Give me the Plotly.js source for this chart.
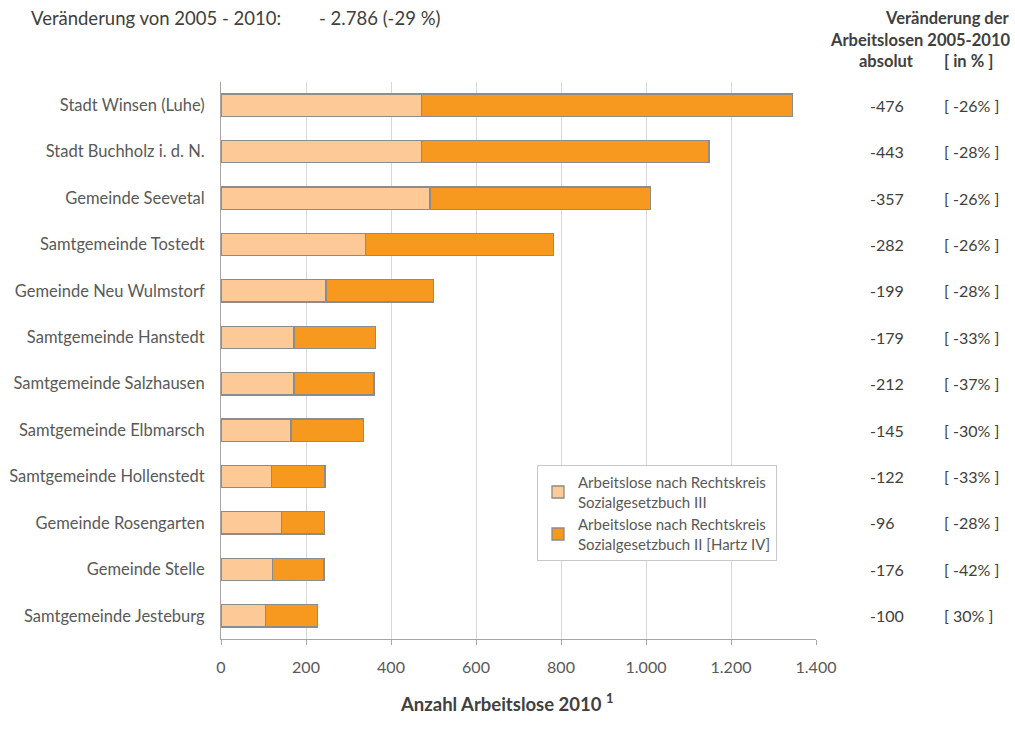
<!DOCTYPE html>
<html>
<head>
<meta charset="utf-8">
<script src="https://cdn.plot.ly/plotly-3.0.1.min.js"></script>
<style>html,body{margin:0;padding:0;background:#fff;}#chart{width:1015px;height:740px;}</style>
</head>
<body>
<div id="chart"></div>
<script>
var categories = ["Stadt Winsen (Luhe)", "Stadt Buchholz i. d. N.", "Gemeinde Seevetal", "Samtgemeinde Tostedt",
  "Gemeinde Neu Wulmstorf", "Samtgemeinde Hanstedt", "Samtgemeinde Salzhausen", "Samtgemeinde Elbmarsch",
  "Samtgemeinde Hollenstedt", "Gemeinde Rosengarten", "Gemeinde Stelle", "Samtgemeinde Jesteburg"];
var sgb3 = [471, 471, 492, 340, 247, 172, 172, 165, 118, 142, 121, 105];
var sgb2 = [874, 677, 519, 442, 253, 191, 188, 171, 127, 102, 121, 122];
var changeAbs = ["-476", "-443", "-357", "-282", "-199", "-179", "-212", "-145", "-122", "-96", "-176", "-100"];
var changePct = ["[ -26% ]", "[ -28% ]", "[ -26% ]", "[ -26% ]", "[ -28% ]", "[ -33% ]", "[ -37% ]", "[ -30% ]", "[ -33% ]", "[ -28% ]", "[ -42% ]", "[ 30% ]"];
var seriesNames = ["Arbeitslose nach Rechtskreis<br>Sozialgesetzbuch III", "Arbeitslose nach Rechtskreis<br>Sozialgesetzbuch II [Hartz IV]"];
var xTicks = [0, 200, 400, 600, 800, 1000, 1200, 1400];
var headerLeft = "Veränderung von 2005 - 2010:";
var headerLeftValue = "- 2.786 (-29 %)";

var FONT = "Lato, 'Open Sans', sans-serif";
var lineCol = "#8c8c8c";
var txt = "#595959";
var dark = "#404040";

var traces = [
  {type: "bar", orientation: "h", y: categories, x: sgb3, name: seriesNames[0],
   marker: {color: "#fdca97", line: {color: lineCol, width: 1.3}}, hoverinfo: "x+y"},
  {type: "bar", orientation: "h", y: categories, x: sgb2, name: seriesNames[1],
   marker: {color: "#f7981f", line: {color: lineCol, width: 1.3}}, hoverinfo: "x+y"}
];

var annotations = [];
var L = 221, W = 595, T = 82, H = 557, B = 639;
function px(x) { return (x - L) / W; }
function py(y) { return (B - y) / H; }
categories.forEach(function (c, i) {
  annotations.push({xref: "paper", yref: "y", x: px(868), y: c, text: changeAbs[i], showarrow: false,
    xanchor: "left", font: {family: FONT, size: 16, color: dark}});
  annotations.push({xref: "paper", yref: "y", x: px(942), y: c, text: changePct[i], showarrow: false,
    xanchor: "left", font: {family: FONT, size: 16, color: dark}});
});
annotations.push({xref: "paper", yref: "paper", x: px(29), y: py(18), text: headerLeft,
  showarrow: false, xanchor: "left", yanchor: "middle", font: {family: FONT, size: 18.5, color: dark}});
annotations.push({xref: "paper", yref: "paper", x: px(317), y: py(18), text: headerLeftValue,
  showarrow: false, xanchor: "left", yanchor: "middle", font: {family: FONT, size: 18.5, color: dark}});
annotations.push({xref: "paper", yref: "paper", x: px(1012), y: py(18), text: "<b>Veränderung der</b>",
  showarrow: false, xanchor: "right", yanchor: "middle", font: {family: FONT, size: 16.5, color: dark}});
annotations.push({xref: "paper", yref: "paper", x: px(1012), y: py(40), text: "<b>Arbeitslosen 2005-2010</b>",
  showarrow: false, xanchor: "right", yanchor: "middle", font: {family: FONT, size: 16.5, color: dark}});
annotations.push({xref: "paper", yref: "paper", x: px(857), y: py(61), text: "<b>absolut</b>",
  showarrow: false, xanchor: "left", yanchor: "middle", font: {family: FONT, size: 16.5, color: dark}});
annotations.push({xref: "paper", yref: "paper", x: px(942), y: py(61), text: "<b>[ in % ]</b>",
  showarrow: false, xanchor: "left", yanchor: "middle", font: {family: FONT, size: 16.5, color: dark}});
annotations.push({xref: "paper", yref: "paper", x: px(507), y: py(703), text: "<b>Anzahl Arbeitslose 2010 <sup>1</sup></b>",
  showarrow: false, xanchor: "center", yanchor: "middle", font: {family: FONT, size: 18.5, color: dark}});

var layout = {
  width: 1015, height: 740,
  margin: {l: L, r: 1015 - L - W, t: T, b: 740 - B},
  paper_bgcolor: "#fff", plot_bgcolor: "#fff",
  barmode: "stack", bargap: 0.52,
  separators: ",.",
  font: {family: FONT, size: 16, color: txt},
  showlegend: true,
  legend: {x: px(537), y: py(465), xanchor: "left", yanchor: "top", traceorder: "normal",
    bgcolor: "#fff", bordercolor: "#c8c8c8", borderwidth: 1,
    font: {family: FONT, size: 15, color: txt}, itemwidth: 30, tracegroupgap: 8},
  xaxis: {range: [0, 1400], tickvals: xTicks, tickformat: ",d", showgrid: true, gridcolor: "#d9d9d9", gridwidth: 1,
    zeroline: false, showline: true, linecolor: "#a6a6a6", linewidth: 1, ticks: "outside", ticklen: 5,
    tickcolor: "#a6a6a6", ticklabelstandoff: 9, tickfont: {family: FONT, size: 16, color: txt}, fixedrange: true},
  yaxis: {autorange: "reversed", showline: true, linecolor: "#a6a6a6", linewidth: 1, ticks: "", showgrid: false,
    ticklabelstandoff: 12, tickfont: {family: FONT, size: 16.5, color: txt}, fixedrange: true},
  annotations: annotations
};

Plotly.newPlot("chart", traces, layout, {displayModeBar: false, staticPlot: true});
</script>
</body>
</html>
